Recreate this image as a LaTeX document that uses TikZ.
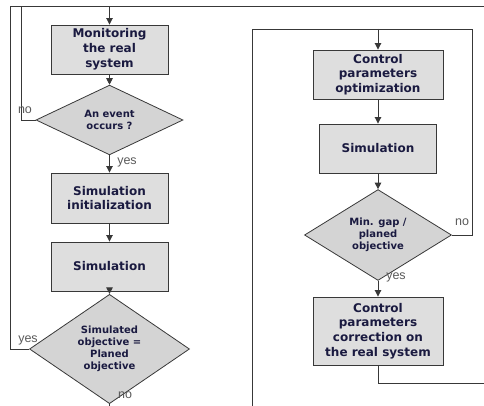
\documentclass[tikz,border=0pt]{standalone}
\usepackage{fontspec}
\setmainfont{DejaVu Sans}
\newfontfamily\labfont{Liberation Sans}
\usetikzlibrary{shapes.geometric,arrows.meta}
\definecolor{txt}{HTML}{1A1A40}
\definecolor{boxfill}{HTML}{DEDEDE}
\definecolor{dmdfill}{HTML}{D4D4D4}
\definecolor{ln}{HTML}{383838}
\definecolor{labc}{HTML}{5A5A5A}
\tikzset{
  stepbox/.style={draw=ln, line width=0.9pt, fill=boxfill, rectangle, inner sep=0pt, align=center,
    text=txt, font=\bfseries\fontsize{12}{14.8}\selectfont},
  decision/.style={draw=ln, line width=0.8pt, fill=dmdfill, diamond, inner sep=0pt, align=center,
    text=txt, font=\bfseries\fontsize{10}{12}\selectfont},
  conn/.style={draw=ln, line width=0.9pt},
  arr/.style={conn, -{Triangle[width=6.5pt,length=6.5pt]}},
  lab/.style={text=labc, font=\labfont\fontsize{12.5}{12.5}\selectfont, inner sep=0pt}
}
\begin{document}
\begin{tikzpicture}[x=1pt,y=-1pt]
\useasboundingbox (0,0) rectangle (484,406);
% left column
\node[stepbox, minimum width=117pt, minimum height=49pt] (mon) at (109.5,49.5) {Monitoring\\the real\\system};
\node[decision, minimum width=147pt, minimum height=62pt] (ev) at (109.5,120) {An event\\occurs ?};
\node[stepbox, minimum width=117pt, minimum height=50pt] (init) at (109.5,198) {Simulation\\initialization};
\node[stepbox, minimum width=117pt, minimum height=49pt] (sim1) at (109.5,266.5) {Simulation};
\node[decision, minimum width=160pt, minimum height=80pt] (obj) at (109.5,349) {Simulated\\objective =\\Planed\\objective};
% right column
\node[stepbox, minimum width=130pt, minimum height=49pt] (opt) at (378,74.5) {Control\\parameters\\optimization};
\node[stepbox, minimum width=117pt, minimum height=49pt] (sim2) at (378,148.5) {Simulation};
\node[decision, minimum width=147pt, minimum height=61pt] (gap) at (378,235) {Min. gap /\\planed\\objective};
\node[stepbox, minimum width=130pt, minimum height=68pt] (corr) at (378,331) {Control\\parameters\\correction on\\the real system};
% coordinates
\coordinate (tl) at (10.5,6.5);
\coordinate (tr) at (484,6.5);
\coordinate (noev) at (21,6.5);
\coordinate (bl) at (109.5,406);
\coordinate (rb) at (252,406);
\coordinate (rt) at (252,29);
\coordinate (rtr) at (472,29);
\coordinate (outr) at (484,383);
% left connectors
\draw[conn] (obj.west) -| (tl);
\draw[conn] (tl) -- (tr);
\draw[conn] (ev.west) -| (noev);
\draw[arr] (mon.north |- tl) -- (mon.north);
\draw[arr] (mon) -- (ev);
\draw[arr] (ev) -- (init);
\draw[arr] (init) -- (sim1);
\draw[arr] (sim1) -- (obj);
\draw[conn] (obj.south) -- (bl);
% right connectors
\draw[conn] (rb) -- (rt) -- (rtr);
\draw[conn] (gap.east) -| (rtr);
\draw[arr] (opt.north |- rt) -- (opt.north);
\draw[arr] (opt) -- (sim2);
\draw[arr] (sim2) -- (gap);
\draw[arr] (gap) -- (corr);
\draw[conn] (corr.south) |- (outr);
% labels
\node[lab] (l1) at (25,110) {no};
\node[lab] (l2) at (127,162) {yes};
\node[lab] (l3) at (28,340) {yes};
\node[lab] (l4) at (125,395) {no};
\node[lab] (l5) at (462,222) {no};
\node[lab] (l6) at (396,277) {yes};
\end{tikzpicture}
\end{document}
